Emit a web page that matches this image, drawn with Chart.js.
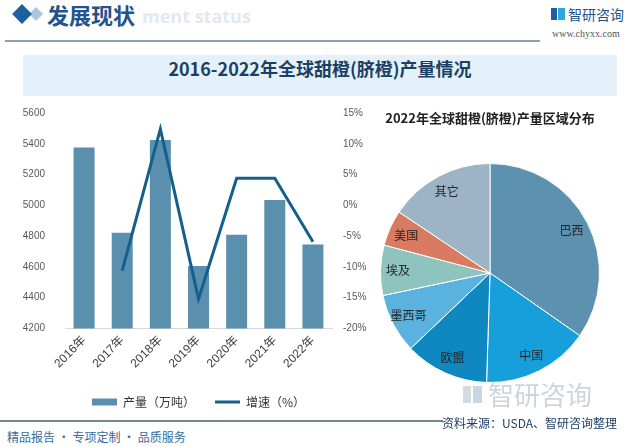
<!DOCTYPE html>
<html>
<head>
<meta charset="utf-8">
<script src="https://cdn.jsdelivr.net/npm/chart.js@4.4.0/dist/chart.umd.min.js"></script>
<style>
body{margin:0;width:640px;height:447px;position:relative;background:#fff;overflow:hidden;font-family:"Noto Sans CJK SC",sans-serif}
.abs{position:absolute;white-space:nowrap}
.dia{position:absolute;transform:rotate(45deg)}
</style>
</head>
<body>
<!-- header -->
<div class="dia" style="left:31px;top:9px;width:10px;height:10px;background:#a9c6e3"></div>
<div class="dia" style="left:15px;top:7px;width:14px;height:14px;background:#1f5f9f"></div>
<div class="abs" style="left:142px;top:4px;font:bold 18px 'Open Sans',sans-serif;color:#e2e9f0">ment status</div>
<div class="abs" style="left:47px;top:0px;font:bold 22px 'Noto Sans CJK SC';color:#22538a;line-height:28px">发展现状</div>
<div class="abs" style="left:5px;top:40px;width:535px;height:2px;background:#8a9fb2"></div>
<div class="abs" style="left:551px;top:8px;width:6px;height:12px;background:#1f5f9f"></div>
<div class="abs" style="left:558px;top:8px;width:7px;height:12px;background:#2fa6de"></div>
<div class="abs" style="left:568px;top:4px;font:14px 'Noto Sans CJK SC';color:#22538a;line-height:20px">智研咨询</div>
<div class="abs" style="left:552px;top:28px;font:10px 'Liberation Serif',serif;color:#555;line-height:12px">www.chyxx.com</div>

<!-- title band -->
<div class="abs" style="left:23px;top:55px;width:594px;height:41px;background:#e4f1fa"></div>
<div class="abs" style="left:23px;top:55px;width:594px;height:41px;line-height:41px;text-align:center;font:bold 18px 'Noto Sans CJK SC';color:#1c3f66">2016-2022年全球甜橙(脐橙)产量情况</div>

<!-- left chart -->
<div class="abs" style="left:10px;top:87px"><canvas id="C1" width="362" height="331"></canvas></div>

<!-- pie -->
<div class="abs" style="left:370px;top:108px;width:240px;text-align:center;font:bold 13px 'Noto Sans CJK SC';color:#222;line-height:20px">2022年全球甜橙(脐橙)产量区域分布</div>
<div class="abs" style="left:380px;top:162px"><canvas id="C2" width="220" height="222"></canvas></div>

<!-- footer -->
<div class="abs" style="left:463px;top:386px;width:8px;height:17px;background:#d3dae1"></div>
<div class="abs" style="left:473px;top:386px;width:9px;height:17px;background:#c6d6e4"></div>
<div class="abs" style="left:488px;top:378px;font:26px 'Noto Sans CJK SC';color:#cdd4dc;line-height:32px">智研咨询</div>
<div class="abs" style="left:0px;top:420px;width:443px;height:2px;background:#6f8699"></div>
<div class="abs" style="left:7px;top:428px;font:12px 'Noto Sans CJK SC';color:#3a6b9a;line-height:18px">精品报告 · 专项定制 · 品质服务</div>
<div class="abs" style="left:442px;top:414px;font:12px 'Noto Sans CJK SC';color:#1d3f66;line-height:18px">资料来源：USDA、智研咨询整理</div>

<script>
// data
const YEARS=['2016年','2017年','2018年','2019年','2020年','2021年','2022年'];
const OUTPUT=[5376,4822,5425,4606,4809,5035,4746];
const GROWTH=[null,-10.6,12.4,-15.2,4.4,4.4,-5.9];
const REGIONS=['巴西','中国','欧盟','墨西哥','埃及','美国','其它'];
const SHARES=[34.7,15.8,12.4,8.8,7.4,5.3,15.6];
const REGION_COLOURS=['#5c92b0','#179fdc','#0f88c2','#5ab3df','#8ec4bd','#d97b60','#9cb4c6'];

const TICKFONT={size:10,family:"'Liberation Sans Narrow','Liberation Sans',sans-serif"};

let Chart1, Chart2;

function LoadC1(){
 Chart1=new Chart(document.getElementById('C1'),{
  type:'bar',
  data:{
   labels:YEARS,
   datasets:[
    {label:'产量（万吨）',data:OUTPUT,backgroundColor:'#5b8fae',yAxisID:'y',order:1,
     categoryPercentage:1,barPercentage:0.55,pointStyle:'rect'},
    {type:'line',label:'增速（%）',data:GROWTH,borderColor:'#14608c',backgroundColor:'#14608c',
     borderWidth:3,pointRadius:0,pointHoverRadius:0,tension:0,yAxisID:'y2',order:0,pointStyle:'line'}
   ]
  },
  options:{
   responsive:false,animation:false,
   layout:{padding:{top:8,left:0,right:0,bottom:0}},
   scales:{
    x:{grid:{display:false,drawTicks:false},border:{color:'#d9d9d9'},
       ticks:{maxRotation:45,minRotation:45,padding:5,color:'#404040',
              font:{size:12,family:"'Liberation Sans','Noto Sans CJK SC',sans-serif"}}},
    y:{position:'left',min:4200,max:5600,grid:{display:false,drawTicks:false},border:{display:false},
       ticks:{stepSize:200,padding:20,color:'#595959',font:TICKFONT,callback:v=>String(v)},
       afterFit(s){s.width=55}},
    y2:{position:'right',min:-20,max:15,grid:{display:false,drawTicks:false},border:{display:false},
       ticks:{stepSize:5,padding:11,color:'#595959',font:TICKFONT,callback:v=>v+'%'},
       afterFit(s){s.width=40}}
   },
   plugins:{
    legend:{position:'bottom',fullSize:false,
     labels:{usePointStyle:true,pointStyleWidth:25,boxHeight:7,padding:20,color:'#333',
       font:{size:12,family:"'Noto Sans CJK SC'"},sort:(a,b)=>a.datasetIndex-b.datasetIndex}},
    tooltip:{enabled:false}
   }
  }
 });
}

const sliceLabels={id:'sliceLabels',afterDatasetsDraw(c){
 const ctx=c.ctx;
 c.getDatasetMeta(0).data.forEach((a,i)=>{
  const p=a.getProps(['x','y','startAngle','endAngle','outerRadius'],true);
  const m=(p.startAngle+p.endAngle)/2, r=p.outerRadius*0.84;
  ctx.save();
  ctx.font="12px 'Noto Sans CJK SC'";ctx.fillStyle='#262626';
  ctx.textAlign='center';ctx.textBaseline='middle';
  ctx.fillText(c.data.labels[i],p.x+Math.cos(m)*r,p.y+Math.sin(m)*r);
  ctx.restore();
 });
}};

function LoadC2(){
 Chart2=new Chart(document.getElementById('C2'),{
  type:'pie',
  data:{labels:REGIONS,datasets:[{data:SHARES,backgroundColor:REGION_COLOURS,borderColor:'#fff',borderWidth:1}]},
  options:{responsive:false,animation:false,layout:{padding:0},
   plugins:{legend:{display:false},tooltip:{enabled:false}}},
  plugins:[sliceLabels]
 });
}

LoadC1();
LoadC2();
</script>
</body>
</html>
